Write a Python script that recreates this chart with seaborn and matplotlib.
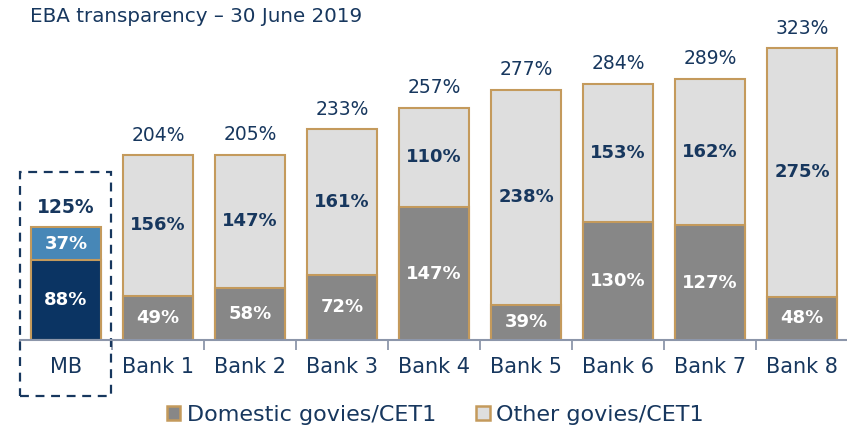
import seaborn as sns
import matplotlib.pyplot as plt
import pandas as pd
from matplotlib.patches import Patch, Rectangle

banks = ['MB', 'Bank 1', 'Bank 2', 'Bank 3', 'Bank 4', 'Bank 5', 'Bank 6', 'Bank 7', 'Bank 8']
domestic = [88, 49, 58, 72, 147, 39, 130, 127, 48]
other = [37, 156, 147, 161, 110, 238, 153, 162, 275]
totals = [125, 204, 205, 233, 257, 277, 284, 289, 323]

navy = '#17375e'
edge = '#c49a5c'
grey = '#878787'
light = '#dedede'

df = pd.DataFrame({'bank': banks, 'domestic': domestic, 'other': other, 'total': totals})
df['stack'] = df['domestic'] + df['other']

sns.set_style('white')
plt.rcParams['font.family'] = ['DejaVu Sans']

fig = plt.figure(figsize=(8.47, 4.30), dpi=100)
ax = fig.add_axes([20 / 847, 90 / 430, 828 / 847, 330 / 430])

top_cols = ['#4787b7'] + [light] * 8
bot_cols = ['#0b3463'] + [grey] * 8

# full stack first, domestic on top of it
sns.barplot(data=df, x='bank', y='stack', hue='bank', palette=top_cols, width=0.77,
            saturation=1, edgecolor=edge, linewidth=1.5, legend=False, ax=ax)
sns.barplot(data=df, x='bank', y='domestic', hue='bank', palette=bot_cols, width=0.77,
            saturation=1, edgecolor=edge, linewidth=1.5, legend=False, ax=ax)

for i, row in df.iterrows():
    ax.text(i, row['domestic'] / 2, f"{row['domestic']}%", ha='center', va='center',
            color='white', fontsize=13, fontweight='bold')
    ax.text(i, row['domestic'] + row['other'] / 2, f"{row['other']}%", ha='center', va='center',
            color='white' if i == 0 else navy, fontsize=13, fontweight='bold')
    ax.text(i, row['total'] + 22, f"{row['total']}%", ha='center', va='center',
            color=navy, fontsize=13.5, fontweight='bold' if i == 0 else 'normal')

ax.set_xlim(-0.5, len(banks) - 0.5)
ax.set_ylim(0, 365)
ax.set_xlabel('')
ax.set_ylabel('')
ax.set_yticks([])
for s in ['top', 'right', 'left']:
    ax.spines[s].set_visible(False)
ax.spines['bottom'].set_color('#8c96aa')
ax.spines['bottom'].set_linewidth(1.5)
ax.set_xticks([i - 0.5 for i in range(len(banks) + 1)], minor=True)
ax.tick_params(axis='x', which='minor', bottom=True, length=7, width=1.3, color='#8c96aa',
               direction='out')
ax.tick_params(axis='x', which='major', length=0, pad=12, labelsize=15, labelcolor=navy)

# dashed box around MB
ax.add_patch(Rectangle((-0.5, -62), 0.99, 248, fill=False, linestyle=(0, (4, 3)),
                       edgecolor=navy, linewidth=1.6, clip_on=False))

fig.text(30 / 847, 1 - 17 / 430, 'EBA transparency – 30 June 2019', ha='left', va='center',
         color=navy, fontsize=14.3)

handles = [Patch(facecolor=grey, edgecolor=edge, linewidth=1.8),
           Patch(facecolor=light, edgecolor=edge, linewidth=1.8)]
fig.legend(handles, ['Domestic govies/CET1', 'Other govies/CET1'], loc='center left',
           bbox_to_anchor=(167 / 847, 1 - 415 / 430), ncol=2, frameon=False, fontsize=16,
           labelcolor=navy, handlelength=0.6, handleheight=0.6, handletextpad=0.3,
           columnspacing=1.8, borderaxespad=0, borderpad=0)

fig.savefig('out.png', dpi=100)
